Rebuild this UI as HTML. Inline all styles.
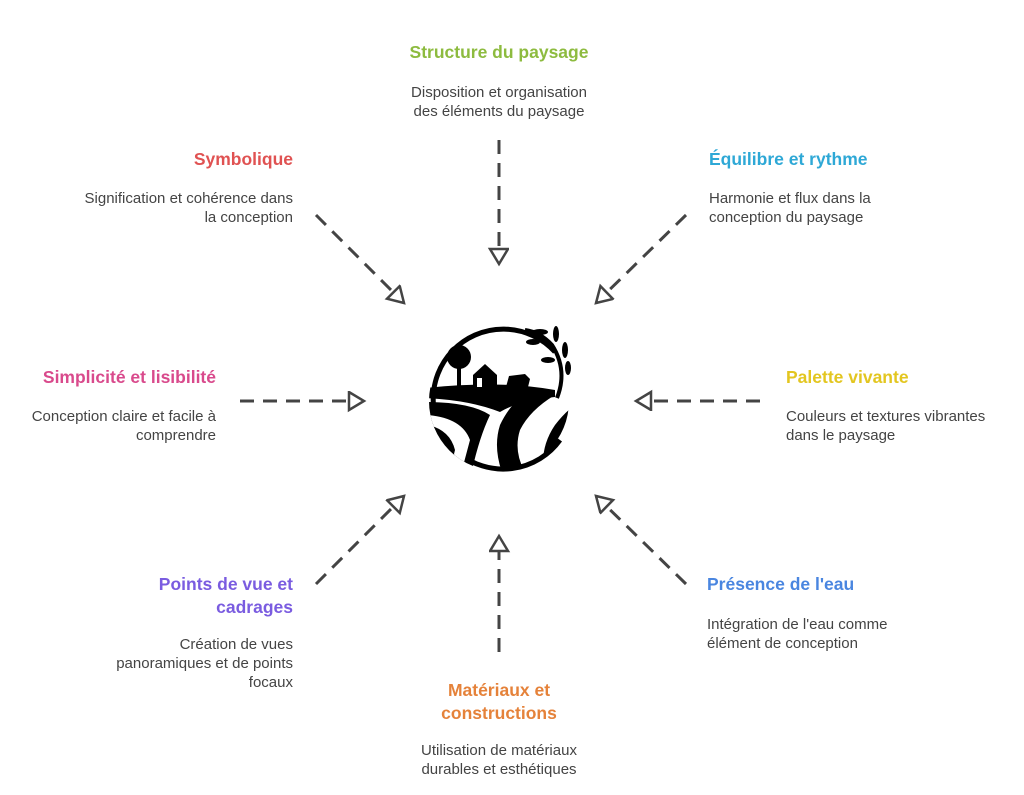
<!DOCTYPE html>
<html><head><meta charset="utf-8"><style>
html,body{margin:0;padding:0;background:#fff;}
svg{display:block}
.t{font-family:"Liberation Sans",sans-serif;font-weight:bold;font-size:17.5px}
.d{font-family:"Liberation Sans",sans-serif;font-size:15px;fill:#444}
</style></head><body>
<svg width="1024" height="795" viewBox="0 0 1024 795" xmlns="http://www.w3.org/2000/svg">
<defs>
<marker id="a" markerWidth="24" markerHeight="24" refX="17" refY="10" orient="auto" markerUnits="userSpaceOnUse">
<path d="M2,1 L17,10 L2,19 Z" fill="#fff" stroke="#444" stroke-width="2.5" stroke-linejoin="miter"/>
</marker>
</defs>
<g stroke="#444" stroke-width="3" stroke-dasharray="14,9" fill="none" marker-end="url(#a)">
<line x1="499" y1="140" x2="499" y2="264"/>
<line x1="316" y1="215" x2="404" y2="303"/>
<line x1="686" y1="215" x2="596" y2="303"/>
<line x1="240" y1="401" x2="364" y2="401"/>
<line x1="760" y1="401" x2="636" y2="401"/>
<line x1="316" y1="584" x2="404" y2="496"/>
<line x1="499" y1="652" x2="499" y2="536"/>
<line x1="686" y1="584" x2="596" y2="496"/>
</g>
<!-- emblem -->
<g>
<path d="M555,352 A70,70 0 1 0 560,440" fill="none" stroke="#000" stroke-width="5"/>
<clipPath id="c"><circle cx="499" cy="401" r="70"/></clipPath>
<g clip-path="url(#c)" fill="#000">
<path d="M425,388 Q500,380 555,390 L555,397 Q520,400 500,412 Q470,400 425,398 Z"/>
<path d="M425,402 Q470,402 490,415 Q478,440 470,480 L425,480 Z"/>
<path d="M428,415 Q462,418 470,440 L462,470 Q455,445 428,440 Z" fill="#fff"/>
<path d="M428,425 Q450,430 455,450 L452,462 Q445,445 428,442 Z" fill="#000"/>
<path d="M520,398 Q540,395 555,395 Q530,410 520,430 Q512,455 530,480 L505,480 Q492,450 500,425 Q508,408 520,398 Z"/>
<path d="M545,480 Q538,450 555,425 Q565,412 575,405 L575,480 Z"/>
</g>
<circle cx="459" cy="357" r="12" fill="#000"/>
<rect x="457" y="364" width="4" height="22" fill="#000"/>
<path d="M473,387 L473,375 L485,364 L497,375 L497,387 Z" fill="#000"/>
<rect x="477" y="378" width="5" height="9" fill="#fff"/>
<path d="M506,387 L509,376 L525,374 L530,379 L528,387 Z" fill="#000"/>
<path d="M557,398 Q568,370 552,345 Q540,332 525,330" stroke="#000" stroke-width="4" fill="none"/>
<g fill="#000">
<ellipse cx="540" cy="332" rx="8" ry="3"/>
<ellipse cx="533" cy="342" rx="7" ry="3"/>
<ellipse cx="556" cy="334" rx="3" ry="8"/>
<ellipse cx="565" cy="350" rx="3" ry="8"/>
<ellipse cx="568" cy="368" rx="3" ry="7"/>
<ellipse cx="548" cy="360" rx="7" ry="3"/>
</g>
</g>
<!-- texts -->
<text class="t" x="499" y="58" text-anchor="middle" fill="#8dbb3f">Structure du paysage</text>
<text class="d" x="499" y="97" text-anchor="middle">Disposition et organisation</text>
<text class="d" x="499" y="116" text-anchor="middle">des éléments du paysage</text>

<text class="t" x="293" y="165" text-anchor="end" fill="#e05252">Symbolique</text>
<text class="d" x="293" y="203" text-anchor="end">Signification et cohérence dans</text>
<text class="d" x="293" y="222" text-anchor="end">la conception</text>

<text class="t" x="709" y="165" fill="#2ea8d6">Équilibre et rythme</text>
<text class="d" x="709" y="203">Harmonie et flux dans la</text>
<text class="d" x="709" y="222">conception du paysage</text>

<text class="t" x="216" y="383" text-anchor="end" fill="#d94a8c">Simplicité et lisibilité</text>
<text class="d" x="216" y="421" text-anchor="end">Conception claire et facile à</text>
<text class="d" x="216" y="440" text-anchor="end">comprendre</text>

<text class="t" x="786" y="383" fill="#e3c620">Palette vivante</text>
<text class="d" x="786" y="421">Couleurs et textures vibrantes</text>
<text class="d" x="786" y="440">dans le paysage</text>

<text class="t" x="293" y="590" text-anchor="end" fill="#7a5ce0">Points de vue et</text>
<text class="t" x="293" y="613" text-anchor="end" fill="#7a5ce0">cadrages</text>
<text class="d" x="293" y="649" text-anchor="end">Création de vues</text>
<text class="d" x="293" y="668" text-anchor="end">panoramiques et de points</text>
<text class="d" x="293" y="687" text-anchor="end">focaux</text>

<text class="t" x="707" y="590" fill="#4a86e0">Présence de l'eau</text>
<text class="d" x="707" y="629">Intégration de l'eau comme</text>
<text class="d" x="707" y="648">élément de conception</text>

<text class="t" x="499" y="696" text-anchor="middle" fill="#e5823a">Matériaux et</text>
<text class="t" x="499" y="719" text-anchor="middle" fill="#e5823a">constructions</text>
<text class="d" x="499" y="755" text-anchor="middle">Utilisation de matériaux</text>
<text class="d" x="499" y="774" text-anchor="middle">durables et esthétiques</text>
</svg>
</body></html>
